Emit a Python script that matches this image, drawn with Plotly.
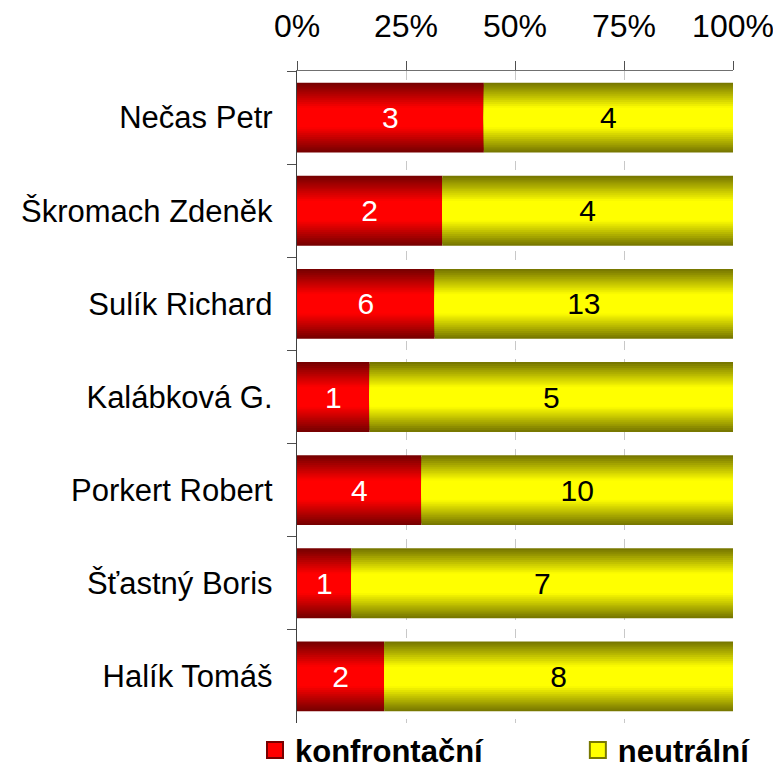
import numpy as np
import plotly.graph_objects as go

names = [
    "Nečas Petr",
    "Škromach Zdeněk",
    "Sulík Richard",
    "Kalábková G.",
    "Porkert Robert",
    "Šťastný Boris",
    "Halík Tomáš",
]
konfrontacni = [3, 2, 6, 1, 4, 1, 2]
neutralni = [4, 4, 13, 5, 10, 7, 8]
series_names = ["konfrontační", "neutrální"]
tick_vals = [0, 25, 50, 75, 100]
tick_text = ["0%", "25%", "50%", "75%", "100%"]

FONT = "Liberation Sans, Arial, sans-serif"
BAR_W = 0.75
N_LAYERS = 18


def shade(d, rgb):
    # bright centre, darker towards the top/bottom edges (Excel-like gradient)
    f = 1.0 if d <= 0.3 else 1.0 - (d - 0.3) / 0.7 * 0.53
    return "rgb({},{},{})".format(*[int(round(c * f)) for c in rgb])


counts = np.array([konfrontacni, neutralni], dtype=float)
shares = counts / counts.sum(axis=0) * 100
bases = np.vstack([np.zeros(len(names)), shares[0]])

base_rgb = [(255, 0, 0), (255, 255, 0)]
text_colors = ["white", "black"]
legend_ids = ["legend", "legend2"]

fig = go.Figure()
for i, label in enumerate(series_names):
    for k in range(N_LAYERS):
        d = 1 - k / N_LAYERS
        fig.add_trace(
            go.Bar(
                y=names,
                x=shares[i],
                base=bases[i],
                orientation="h",
                width=BAR_W * d,
                marker={"color": shade(d, base_rgb[i]), "line": {"width": 0}},
                name=label,
                showlegend=False,
                hoverinfo="skip",
            )
        )

for i, label in enumerate(series_names):
    fig.add_trace(
        go.Bar(
            y=names,
            x=shares[i],
            base=bases[i],
            orientation="h",
            width=BAR_W,
            marker={"color": "rgba(0,0,0,0)", "line": {"width": 0}},
            text=[str(int(v)) for v in counts[i]],
            textposition="inside",
            insidetextanchor="middle",
            textangle=0,
            textfont={"family": FONT, "size": 30, "color": text_colors[i]},
            showlegend=False,
            hoverinfo="skip",
        )
    )

# legend swatches
for i, label in enumerate(series_names):
    fig.add_trace(
        go.Scatter(
            x=[None],
            y=[None],
            mode="markers",
            name=label,
            legend=legend_ids[i],
            marker={
                "symbol": "square",
                "size": 16,
                "color": shade(0.3, base_rgb[i]),
                "line": {"color": shade(1.0, base_rgb[i]), "width": 2},
            },
        )
    )

legend_common = {
    "orientation": "h",
    "xref": "container",
    "yref": "container",
    "xanchor": "left",
    "y": 0.022,
    "yanchor": "middle",
    "itemsizing": "trace",
    "font": {"family": FONT, "size": 31, "color": "black", "weight": "bold"},
    "bgcolor": "rgba(0,0,0,0)",
}

# the page body adds an 8px offset, so the figure is 8px smaller than the window
fig.update_layout(
    barmode="overlay",
    width=773,
    height=759,
    margin={"l": 289, "r": 48, "t": 63, "b": 44},
    paper_bgcolor="white",
    plot_bgcolor="white",
    font={"family": FONT, "size": 30, "color": "black"},
    legend={**legend_common, "x": 0.3195},
    legend2={**legend_common, "x": 0.7372},
    xaxis={
        "side": "top",
        "range": [0, 100],
        "tickvals": tick_vals,
        "ticktext": tick_text,
        "ticks": "outside",
        "ticklen": 9,
        "tickcolor": "#505050",
        "ticklabelstandoff": 11,
        "showline": True,
        "linecolor": "#707070",
        "linewidth": 1,
        "showgrid": True,
        "gridcolor": "#c8c8c8",
        "griddash": "dash",
        "zeroline": False,
        "automargin": False,
        "tickfont": {"size": 32},
    },
    yaxis={
        "autorange": "reversed",
        "tickson": "boundaries",
        "ticks": "outside",
        "ticklen": 9,
        "tickcolor": "#505050",
        "showline": True,
        "linecolor": "#404040",
        "linewidth": 1,
        "showgrid": False,
        "ticksuffix": "  ",
        "automargin": False,
        "tickfont": {"size": 31},
    },
)

fig.write_html("out.html")
